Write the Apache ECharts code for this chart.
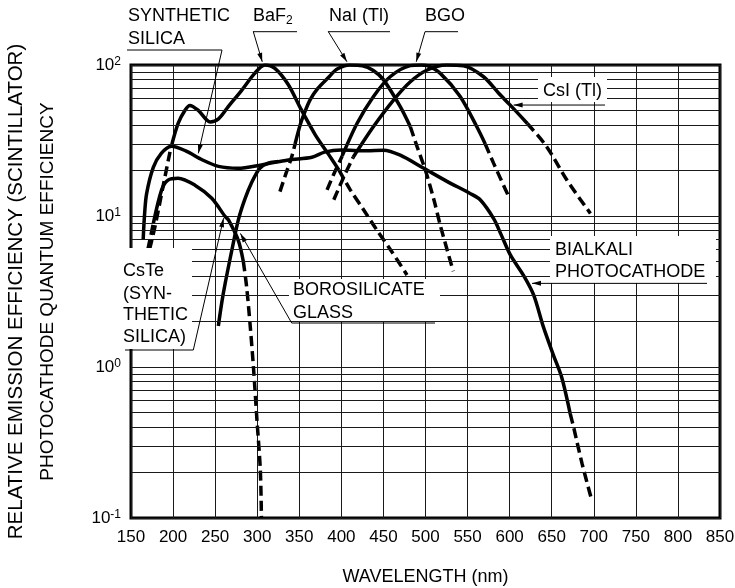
<!DOCTYPE html>
<html>
<head>
<meta charset="utf-8">
<script src="https://cdn.jsdelivr.net/npm/echarts@6/dist/echarts.min.js"></script>
<style>
html, body { margin: 0; padding: 0; background: #fff; }
#main { width: 735px; height: 588px; }
</style>
</head>
<body>
<div id="main"></div>
<script>
// 坐标轴刻度
var xTicks = [150, 200, 250, 300, 350, 400, 450, 500, 550, 600, 650, 700, 750, 800, 850];
var yDecades = [0.1, 1, 10, 100];
var yMinor = [0.2, 0.3, 0.4, 0.5, 0.6, 0.7, 0.8, 0.9, 2, 3, 4, 5, 6, 7, 8, 9, 20, 30, 40, 50, 60, 70, 80, 90];

// 光阴极量子效率 (bialkali, synthetic silica window)
var synSilica = [[164.5, 7], [166, 10], [168.5, 14], [176.5, 21], [186, 26], [198, 29], [215, 27], [235, 23.5],
    [254, 21.3], [277, 20.7], [305, 21.8], [337, 23.5], [365, 24.5], [380, 26.5], [400, 27.4], [430, 27],
    [450, 27.3], [470, 25.3], [498, 20.7], [526, 16.9], [553, 14.1], [565, 12.8], [581, 9.6], [590, 7.5],
    [601, 5.5], [617, 4.0], [628.5, 3.0], [640, 1.85], [652, 1.2], [662, 0.85], [672, 0.49]];
var synSilicaTail = [[672, 0.49], [676, 0.40], [686, 0.23], [697, 0.135]];
// bialkali, borosilicate window
var borosilicate = [[253.8, 1.87], [258, 2.7], [262, 3.6], [270, 6], [277.5, 9.4], [285, 12.8], [293, 16.5],
    [303, 20.7], [313, 22.4], [325, 23]];
// CsTe
var csTeHead = [[170, 6], [176.5, 8.9]];
var csTe = [[176.5, 8.9], [186.4, 14.9], [194, 17.3], [206, 17.8], [226, 16], [246, 13.1], [262, 9.9],
    [266, 9.4], [277.5, 6.9], [283.5, 5.0]];
var csTeTail = [[283.5, 5.0], [287.4, 3.4], [291.4, 1.95], [295.5, 1.0], [299.7, 0.445], [303.7, 0.208], [305, 0.1]];

// 闪烁体相对发光效率
var baf2Head = [[172, 6], [178.5, 8.5], [188, 15.6], [196, 26], [198, 29]];
var baf2 = [[198, 29], [206, 41], [214, 50], [220, 54], [230, 50], [244, 42], [254, 44], [265.6, 53],
    [281.5, 68], [297, 88], [309, 100], [321, 95], [337, 74], [352, 51], [369, 34.5], [385, 25.5], [397, 20.2]];
var baf2Tail = [[397, 20.2], [410.6, 14.9], [426.4, 11], [442, 8.1], [460, 5.8], [478, 4.07]];

var naiHead = [[327, 14.5], [334, 19], [341, 24.7], [345, 30]];
var nai = [[345, 30], [351, 40], [356, 48], [363, 59], [372, 70], [384, 82], [395, 94], [410, 100],
    [425, 99], [438, 92], [450, 80], [470, 53], [482, 39]];
var naiTail = [[482, 39], [490, 28.8], [500, 20], [510, 12.8], [518, 8.5], [533, 4.3]];

var bgoHead = [[383, 14.9], [392, 19.5], [401, 25]];
var bgo = [[401, 25], [418.6, 41], [438, 61.7], [458, 83.6], [482, 99], [495, 100], [502, 99],
    [517.6, 88], [541, 62], [561, 39], [571, 30]];
var bgoTail = [[571, 30], [581, 22.3], [599, 13.4]];

var csiHead = [[391, 12.8], [403, 18.2], [414, 24.5]];
var csi = [[414, 24.5], [438, 39], [462, 58.6], [482, 77.5], [502, 92.7], [525, 100], [545, 99],
    [569, 83.6], [587, 65], [601, 54], [621, 41]];
var csiTail = [[621, 41], [644, 28.8], [668, 17.3], [696, 10.4]];

var FONT = 'Liberation Sans, Arial, Helvetica, sans-serif';

function curve(data, dashed) {
    return {
        type: 'line',
        data: data,
        smooth: 0.3,
        symbol: 'none',
        showSymbol: false,
        silent: true,
        z: 3,
        lineStyle: {
            color: '#000',
            width: 3.5,
            type: dashed ? [10, 5] : 'solid'
        }
    };
}

var myChart = echarts.init(document.getElementById('main'), null, { renderer: 'canvas' });

var option = {
    animation: false,
    backgroundColor: '#fff',
    grid: {
        left: 131,
        right: 15,
        top: 65,
        bottom: 70,
        show: true,
        borderColor: '#000',
        borderWidth: 3,
        outerBoundsMode: 'none'
    },
    xAxis: {
        type: 'value',
        min: xTicks[0],
        max: xTicks[xTicks.length - 1],
        interval: 50,
        name: 'WAVELENGTH (nm)',
        nameLocation: 'middle',
        nameGap: 50,
        nameTextStyle: { fontSize: 18, color: '#000', fontFamily: FONT },
        axisLine: { show: false },
        axisTick: { show: false },
        axisLabel: { fontSize: 17, color: '#000', fontFamily: FONT, margin: 11 },
        splitLine: { show: true, lineStyle: { color: '#1a1a1a', width: 1 } }
    },
    yAxis: {
        type: 'log',
        logBase: 10,
        min: yDecades[0],
        max: yDecades[yDecades.length - 1],
        name: '{a|RELATIVE EMISSION EFFICIENCY (SCINTILLATOR)}\n{b|PHOTOCATHODE QUANTUM EFFICIENCY}',
        nameLocation: 'middle',
        nameRotate: 90,
        nameGap: 67,
        nameTextStyle: {
            color: '#000',
            rich: {
                a: { fontSize: 20.5, color: '#000', fontFamily: FONT, lineHeight: 32 },
                b: { fontSize: 19, color: '#000', fontFamily: FONT, lineHeight: 32 }
            }
        },
        axisLine: { show: false },
        axisTick: { show: false },
        axisLabel: {
            margin: 10,
            formatter: function (v) {
                var e = Math.round(Math.log10(v));
                return '{b|10}{s|' + e + '}';
            },
            rich: {
                b: { fontSize: 17, color: '#000', fontFamily: FONT, lineHeight: 18, verticalAlign: 'bottom' },
                s: { fontSize: 12, color: '#000', fontFamily: FONT, lineHeight: 12, verticalAlign: 'top', padding: [0, 0, 8, 0] }
            }
        },
        splitLine: { show: true, lineStyle: { color: '#1a1a1a', width: 1 } }
    },
    series: [
        {
            type: 'line',
            data: [],
            silent: true,
            z: 1,
            markLine: {
                silent: true,
                animation: false,
                symbol: ['none', 'none'],
                label: { show: false },
                lineStyle: { color: '#1a1a1a', width: 1, type: 'solid' },
                data: yMinor.map(function (v) { return { yAxis: v }; })
            }
        },
        curve(synSilica, false), curve(synSilicaTail, true),
        curve(borosilicate, false),
        curve(csTeHead, true), curve(csTe, false), curve(csTeTail, true),
        curve(baf2Head, true), curve(baf2, false), curve(baf2Tail, true),
        curve(naiHead, true), curve(nai, false), curve(naiTail, true),
        curve(bgoHead, true), curve(bgo, false), curve(bgoTail, true),
        curve(csiHead, true), curve(csi, false), curve(csiTail, true)
    ]
};
myChart.setOption(option);

// 标注 (文字框、引线、箭头)
var g = [];
function tipPx(d) { return myChart.convertToPixel({ gridIndex: 0 }, d); }
function addBox(x, y, w, h) {
    g.push({ type: 'rect', z: 50, silent: true, shape: { x: x, y: y, width: w, height: h }, style: { fill: '#fff' } });
}
function addText(str, x, y) {
    g.push({ type: 'text', z: 60, silent: true, x: x, y: y,
        style: { text: str, fill: '#000', font: '18px ' + FONT, align: 'left', verticalAlign: 'middle' } });
}
function addLine(x1, y1, x2, y2) {
    g.push({ type: 'line', z: 60, silent: true, shape: { x1: x1, y1: y1, x2: x2, y2: y2 },
        style: { stroke: '#000', lineWidth: 1 } });
}
function addArrow(from, to) {
    addLine(from[0], from[1], to[0], to[1]);
    var dx = to[0] - from[0], dy = to[1] - from[1];
    var len = Math.sqrt(dx * dx + dy * dy);
    var ux = dx / len, uy = dy / len;
    var bx = to[0] - ux * 9, by = to[1] - uy * 9;
    g.push({ type: 'polygon', z: 61, silent: true,
        shape: { points: [[to[0], to[1]], [bx - uy * 2.5, by + ux * 2.5], [bx + uy * 2.5, by - ux * 2.5]] },
        style: { fill: '#000' } });
}

// SYNTHETIC SILICA
addText('SYNTHETIC', 128, 16.5);
addText('SILICA', 128, 39);
addLine(127, 50, 222, 50);
addArrow([222, 50], tipPx([230, 26]));

// BaF2
g.push({ type: 'text', z: 60, silent: true, x: 253, y: 16.5,
    style: { text: '{a|BaF}{b|2}', align: 'left', verticalAlign: 'middle',
        rich: {
            a: { fontSize: 18, fontFamily: FONT, fill: '#000', lineHeight: 20 },
            b: { fontSize: 12, fontFamily: FONT, fill: '#000', lineHeight: 12, verticalAlign: 'bottom', padding: [10, 0, 0, 0] }
        } } });
addLine(253, 31.7, 297, 31.7);
addArrow([253.3, 31.7], tipPx([306, 105]));

// NaI (Tl)
addText('NaI (Tl)', 329, 16.5);
addLine(328, 31.7, 390, 31.7);
addArrow([328.3, 31.7], tipPx([406.7, 105]));

// BGO
addText('BGO', 425, 16.5);
addLine(425, 31.7, 458, 31.7);
addArrow([425, 31.7], tipPx([489, 105]));

// CsI (Tl)
addBox(538, 77, 69, 25);
addText('CsI (Tl)', 543, 91);
var tCsi = tipPx([604.7, 54.3]);
addArrow([605, tCsi[1]], tCsi);

// BIALKALI PHOTOCATHODE
addBox(550, 236, 166, 47);
addText('BIALKALI', 555, 250);
addText('PHOTOCATHODE', 555, 272.5);
var tBi = tipPx([626.6, 3.58]);
addArrow([707, tBi[1]], tBi);

// BOROSILICATE GLASS
addBox(289, 279, 151, 42);
addText('BOROSILICATE', 293, 290.5);
addText('GLASS', 293, 313);
addLine(291.7, 323, 435, 323);
addArrow([291.7, 323], tipPx([280, 7.67]));

// CsTe (SYNTHETIC SILICA)
addBox(119, 248, 73, 101);
addText('CsTe', 123, 271.5);
addText('(SYN-', 123, 294);
addText('THETIC', 123, 315.5);
addText('SILICA)', 123, 337.5);
addLine(125, 350, 193.3, 350);
addArrow([193.3, 350], tipPx([260, 9.66]));

myChart.setOption({ graphic: g });
</script>
</body>
</html>
